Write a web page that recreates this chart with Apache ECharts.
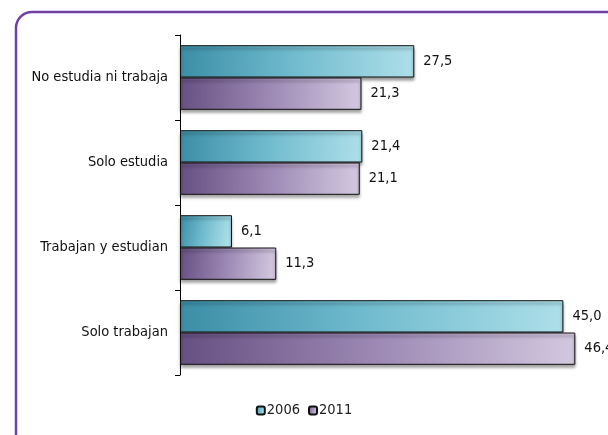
<!DOCTYPE html>
<html>
<head>
<meta charset="utf-8">
<script src="https://cdn.jsdelivr.net/npm/echarts@6/dist/echarts.min.js"></script>
<style>
html,body{margin:0;padding:0;background:#fff;}
#chart{width:608px;height:435px;}
</style>
</head>
<body>
<div id="chart"></div>
<script>
var categorias = ["No estudia ni trabaja", "Solo estudia", "Trabajan y estudian", "Solo trabajan"];
var valores2006 = [27.5, 21.4, 6.1, 45.0];
var valores2011 = [21.3, 21.1, 11.3, 46.4];
var anios = ["2006", "2011"];

var fuente = "'DejaVu Sans Condensed', 'Liberation Sans Narrow', 'Liberation Sans', sans-serif";

function fmt(p){
	return p.value.toFixed(1).replace(".", ",");
}

var grad2006 = new echarts.graphic.LinearGradient(0, 0, 1, 0.3, [
	{offset:0, color:"#3b8ea6"},
	{offset:0.5, color:"#72bccf"},
	{offset:1, color:"#addfe9"}
]);
var grad2011 = new echarts.graphic.LinearGradient(0, 0, 1, 0.3, [
	{offset:0, color:"#664f82"},
	{offset:0.5, color:"#9d89b4"},
	{offset:1, color:"#d3c8e0"}
]);

var chart = echarts.init(document.getElementById("chart"));
var option = {
	animation:false,
	graphic:[{
		type:"rect",
		shape:{x:16, y:12, width:700, height:460, r:16},
		style:{fill:"none", stroke:"#7040a6", lineWidth:2.5},
		z:-1
	}],
	grid:{left:180, top:35, bottom:60, right:2},
	legend:{
		data:anios,
		bottom:12,
		left:"center",
		itemWidth:8,
		itemHeight:8,
		itemGap:8,
		textStyle:{fontFamily:fuente, fontSize:14.5, color:"#222", padding:[0,0,0,-3]}
	},
	xAxis:{
		type:"value",
		min:0,
		max:50,
		show:false
	},
	yAxis:{
		type:"category",
		data:categorias,
		inverse:true,
		axisLine:{lineStyle:{color:"#000", width:1}},
		axisTick:{show:true, length:5, lineStyle:{color:"#000"}},
		axisLabel:{fontFamily:fuente, fontSize:14.5, color:"#111", margin:12}
	},
	series:[{
		name:anios[0],
		type:"bar",
		data:valores2006,
		barGap:"0%",
		barCategoryGap:"24%",
		itemStyle:{color:grad2006, borderColor:"#111", borderWidth:1,
			shadowColor:"rgba(0,0,0,0.45)", shadowBlur:3, shadowOffsetY:3},
		label:{show:true, position:"right", distance:9, formatter:fmt,
			fontFamily:fuente, fontSize:14.5, color:"#111"}
	},{
		name:anios[1],
		type:"bar",
		data:valores2011,
		itemStyle:{color:grad2011, borderColor:"#111", borderWidth:1,
			shadowColor:"rgba(0,0,0,0.45)", shadowBlur:3, shadowOffsetY:3},
		label:{show:true, position:"right", distance:9, formatter:fmt,
			fontFamily:fuente, fontSize:14.5, color:"#111"}
	}]
};
chart.setOption(option);
</script>
</body>
</html>
